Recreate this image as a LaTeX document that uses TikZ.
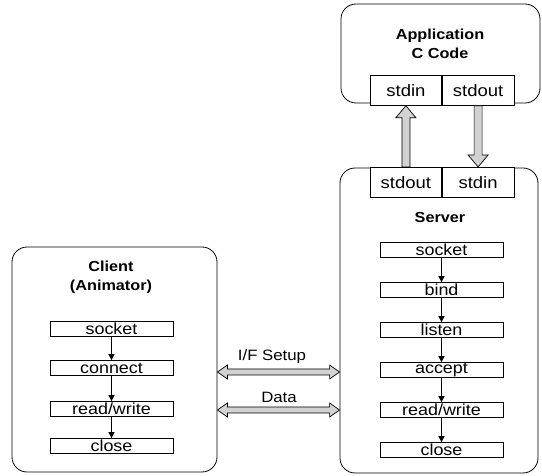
\documentclass[tikz,border=0pt]{standalone}
\usepackage{fontspec}
\setmainfont{Liberation Sans}
\newfontfamily\stepfont[FakeStretch=1.12]{Liberation Sans}
\usetikzlibrary{arrows.meta,calc}
\begin{document}
\begin{tikzpicture}[x=1pt,y=-1pt,
  bigbox/.style={draw, line width=0.8pt, rounded corners=15pt, inner sep=0pt},
  stepbox/.style={draw, line width=0.7pt, fill=white, minimum width=123pt, minimum height=15pt, inner sep=0pt, font=\stepfont\fontsize{16}{16}\selectfont},
  iobox/.style={draw, line width=0.7pt, fill=white, minimum width=71.5pt, minimum height=30pt, inner sep=0pt, font=\stepfont\fontsize{16.5}{16}\selectfont},
  titletext/.style={font=\stepfont\bfseries\fontsize{14.5}{19}\selectfont, align=center},
  labeltext/.style={font=\stepfont\fontsize{15}{15}\selectfont},
  steparrow/.style={line width=0.7pt, -{Triangle[length=6pt,width=6pt]}},
  fat/.style={draw, line width=0.7pt, fill=gray!35}
]
\useasboundingbox (0,0) rectangle (542,476);

% Application box
\node[bigbox, minimum width=199pt, minimum height=99pt] (app) at (440.5,53.5) {};
\node[titletext] (apptitle) at (440,44) {Application\\C Code};
\node[iobox, anchor=north east] (appin) at (442,75) {stdin};
\node[iobox, anchor=north west] (appout) at (442,75) {stdout};

% Server box
\node[bigbox, minimum width=198pt, minimum height=305pt] (srv) at (439,320.5) {};
\node[iobox, anchor=north east] (srvout) at (442,167) {stdout};
\node[iobox, anchor=north west] (srvin) at (442,167) {stdin};
\node[titletext] (srvtitle) at (440,218) {Server};
\node[stepbox] (s1) at (441.5,250) {socket};
\node[stepbox] (s2) at (441.5,290) {bind};
\node[stepbox] (s3) at (441.5,330) {listen};
\node[stepbox] (s4) at (441.5,370) {accept};
\node[stepbox] (s5) at (441.5,410) {read/write};
\node[stepbox] (s6) at (441.5,450) {close};
\foreach \a/\b in {s1/s2,s2/s3,s3/s4,s4/s5,s5/s6} \draw[steparrow] (\a) -- (\b);

% Client box
\node[bigbox, minimum width=205pt, minimum height=225pt] (cli) at (114.5,359.5) {};
\node[titletext] (clititle) at (111,277) {Client\\(Animator)};
\node[stepbox] (c1) at (111.5,329) {socket};
\node[stepbox] (c2) at (111.5,368) {connect};
\node[stepbox] (c3) at (111.5,409) {read/write};
\node[stepbox] (c4) at (111.5,446) {close};
\foreach \a/\b in {c1/c2,c2/c3,c3/c4} \draw[steparrow] (\a) -- (\b);

% pipes: up arrow (server stdout -> app stdin)
\coordinate (ua) at (srvout.north);
\coordinate (ub) at (appin.south);
\draw[fat] ($(ua)+(-4,0)$) -- ($(ub)+(-4,12)$) -- ($(ub)+(-10,12)$) -- (ub)
  -- ($(ub)+(10,12)$) -- ($(ub)+(4,12)$) -- ($(ua)+(4,0)$) -- cycle;
% down arrow (app stdout -> server stdin)
\coordinate (da) at (appout.south);
\coordinate (db) at (srvin.north);
\draw[fat] ($(da)+(-4,0)$) -- ($(db)+(-4,-12)$) -- ($(db)+(-10,-12)$) -- (db)
  -- ($(db)+(10,-12)$) -- ($(db)+(4,-12)$) -- ($(da)+(4,0)$) -- cycle;

% network
\coordinate (ifL) at (cli.east |- 0,372);
\coordinate (ifR) at (srv.west |- 0,372);
\coordinate (dL) at (cli.east |- 0,410);
\coordinate (dR) at (srv.west |- 0,410);
\foreach \l/\r in {ifL/ifR, dL/dR}
  \draw[fat] (\l) -- ($(\l)+(10,-7)$) -- ($(\l)+(10,-3)$) -- ($(\r)+(-10,-3)$)
    -- ($(\r)+(-10,-7)$) -- (\r) -- ($(\r)+(-10,7)$) -- ($(\r)+(-10,3)$)
    -- ($(\l)+(10,3)$) -- ($(\l)+(10,7)$) -- cycle;
\node[labeltext] (iflabel) at (272,357) {I/F Setup};
\node[labeltext] (dlabel) at (279,397) {Data};
\end{tikzpicture}
\end{document}
